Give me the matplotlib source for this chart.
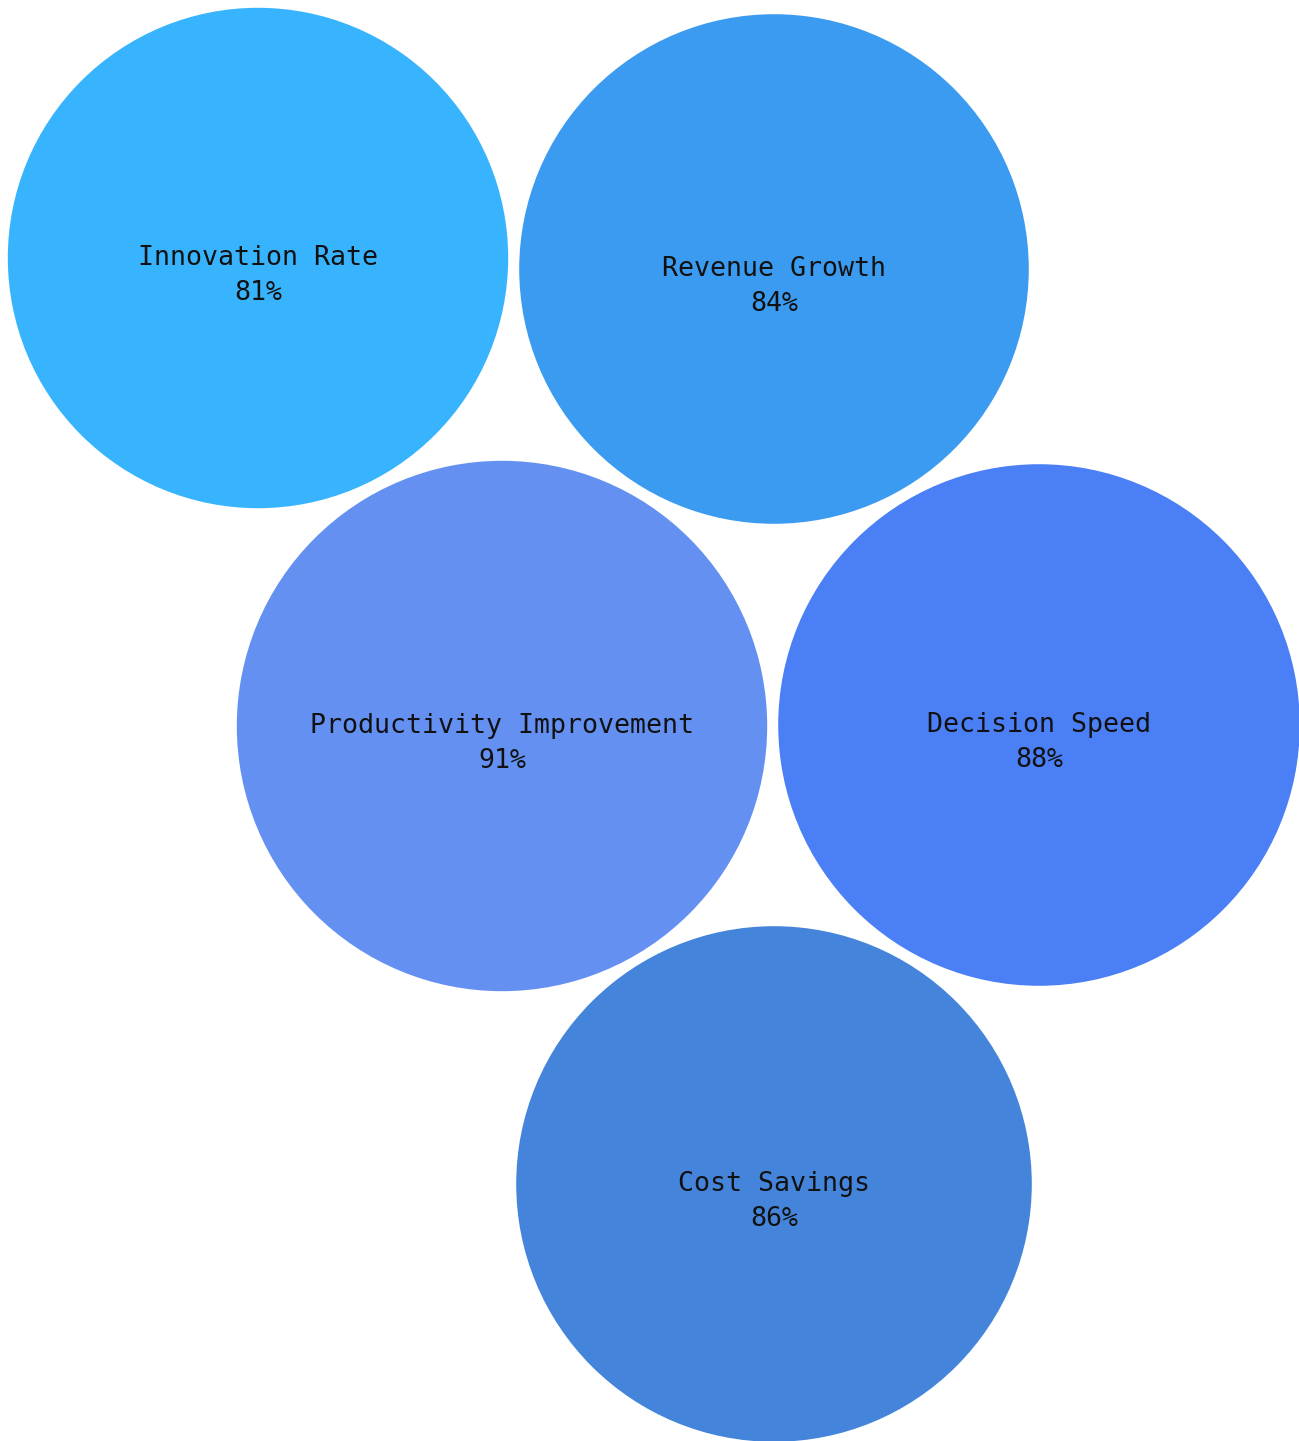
import numpy as np
import matplotlib.pyplot as plt
from matplotlib.patches import Circle

# metrics shown as bubbles (area ~ value)
metrics = ['Innovation Rate', 'Revenue Growth', 'Productivity Improvement',
           'Decision Speed', 'Cost Savings']
values = [81, 84, 91, 88, 86]
colors = ['#38B4FE', '#3B9BF0', '#6490F2', '#4A7FF6', '#4485DB']

# packed layout (pixel space, y down)
centers_x = [258, 774, 502, 1039, 774]
centers_y = [258, 269, 726, 725, 1184]
scale = 27.8

W, H = 1299, 1441
fig = plt.figure(figsize=(W / 100, H / 100), dpi=100)
ax = fig.add_axes([0, 0, 1, 1])
ax.set_xlim(0, W)
ax.set_ylim(H, 0)
ax.set_aspect('equal')
ax.axis('off')

for name, v, c, x, y in zip(metrics, values, colors, centers_x, centers_y):
    r = scale * np.sqrt(v)
    ax.add_patch(Circle((x, y), r, facecolor=c, edgecolor='none'))
    ax.text(x, y, name, ha='center', va='center', fontsize=19.2,
            family='DejaVu Sans Mono', color='#111111')
    ax.text(x, y + 35, f'{v}%', ha='center', va='center', fontsize=19.2,
            family='DejaVu Sans Mono', color='#111111')

plt.savefig('out.png', dpi=100)
